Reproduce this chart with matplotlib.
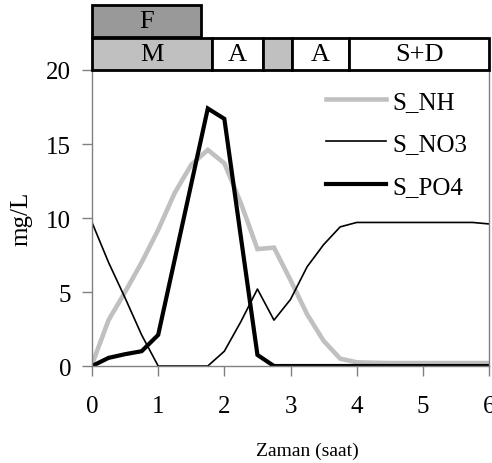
import numpy as np
import matplotlib
matplotlib.use("Agg")
import matplotlib.pyplot as plt
from matplotlib.patches import Rectangle

plt.rcParams['font.family'] = ['Liberation Serif', 'DejaVu Serif']

# time in hours, one sample every 15 minutes
t = np.arange(0, 6.01, 0.25)
s_nh = [0.1, 3.1, 5.0, 7.0, 9.2, 11.7, 13.6, 14.6, 13.7, 11.0, 7.9, 8.0, 5.8,
        3.5, 1.7, 0.5, 0.25, 0.22, 0.2, 0.2, 0.2, 0.2, 0.2, 0.2, 0.2]
s_no3 = [9.7, 7.0, 4.6, 2.1, 0.0, 0.0, 0.0, 0.0, 1.0, 3.0, 5.2, 3.1, 4.5,
         6.7, 8.2, 9.4, 9.7, 9.7, 9.7, 9.7, 9.7, 9.7, 9.7, 9.7, 9.6]
s_po4 = [0.0, 0.55, 0.8, 1.0, 2.1, 7.2, 12.3, 17.4, 16.7, 8.7, 0.75, 0.0, 0.0,
         0.0, 0.0, 0.0, 0.0, 0.0, 0.0, 0.0, 0.0, 0.0, 0.0, 0.0, 0.0]

# process phases: (start, end, label, colour)
top_row = [(0.0, 1.65, 'F', '#999999')]
bottom_row = [(0.0, 1.82, 'M', '#c0c0c0'),
              (1.82, 2.58, 'A', 'white'),
              (2.58, 3.02, '', '#c0c0c0'),
              (3.02, 3.89, 'A', 'white'),
              (3.89, 6.0, 'S+D', 'white')]

fig = plt.figure(figsize=(4.92, 4.64), dpi=100)
ax = fig.add_axes((0.187, 0.209, 0.807, 0.638))

ax.plot(t, s_nh, color='#c0c0c0', lw=3.3, label='S_NH', solid_joinstyle='miter')
ax.plot(t, s_no3, color='black', lw=1.2, label='S_NO3')
ax.plot(t, s_po4, color='black', lw=3.0, label='S_PO4', solid_joinstyle='miter')

ax.set_xlim(0, 6)
ax.set_ylim(0, 20)
ax.set_xticks(range(7))
ax.set_yticks([0, 5, 10, 15, 20])
ax.tick_params(axis='x', length=7, width=1, color='#808080', pad=14, labelsize=18)
ax.tick_params(axis='y', length=7, width=1, color='#808080', pad=8, labelsize=18)
for side in ['left', 'right', 'bottom']:
    ax.spines[side].set_color('#808080')
    ax.spines[side].set_linewidth(1)
ax.spines['top'].set_visible(False)

ax.set_ylabel('mg/L', fontsize=18)
ax.yaxis.set_label_coords(-0.15, 0.5)
fig.text(0.625, 0.028, 'Zaman (saat)', ha='center', va='center', fontsize=14)

ax.legend(loc='upper left', bbox_to_anchor=(0.589, 0.932), frameon=False,
          fontsize=18, handlelength=2.4, handletextpad=0.25, borderpad=0,
          borderaxespad=0, labelspacing=0.8)

# phase bands above the plot
band = fig.add_axes((0.187, 0.847, 0.807, 0.142), sharex=ax)
band.set_ylim(0, 2)
band.axis('off')
for row, (y0, h) in zip([bottom_row, top_row], [(0.0, 0.97), (1.0, 0.97)]):
    for x0, x1, lab, col in row:
        band.add_patch(Rectangle((x0, y0), x1 - x0, h, facecolor=col,
                                 edgecolor='black', lw=2, clip_on=False))
        if lab:
            band.text((x0 + x1) / 2, y0 + h / 2, lab, ha='center', va='center',
                      fontsize=19)

fig.savefig('out.png', dpi=100)
